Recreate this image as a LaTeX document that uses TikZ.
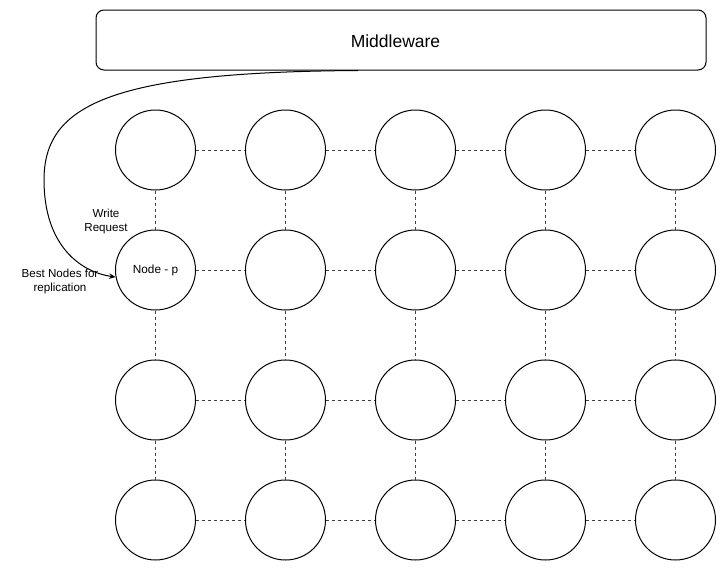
\documentclass[tikz,border=0pt]{standalone}
\usepackage{fontspec}
\setmainfont{Liberation Sans}
\usetikzlibrary{arrows.meta,calc}
\begin{document}
\begin{tikzpicture}[x=1pt,y=-1pt,
  peer/.style={draw,circle,minimum size=80pt,inner sep=0pt,line width=1pt,font=\fontsize{11.8}{13}\selectfont},
  link/.style={draw=black!75,line width=1pt,dash pattern=on 3pt off 3pt},
  lbl/.style={align=center,font=\fontsize{11.6}{14}\selectfont,inner sep=0pt}]
\useasboundingbox (0,0) rectangle (726,571);
\node[draw,rounded corners=8pt,line width=1pt,minimum width=610pt,minimum height=60pt,inner sep=0pt] (mw) at (401,40) {};
\node[font=\fontsize{17.5}{20}\selectfont,inner sep=0pt] (mwt) at (395.5,41.5) {Middleware};
\foreach \r/\y in {1/150,2/270,3/400,4/520}{
  \foreach \c/\x in {1/155.5,2/285.5,3/415.5,4/545.5,5/675.5}{
    \node[peer] (n\r\c) at (\x,\y) {};
  }
}
\node[font=\fontsize{11.8}{13}\selectfont] (p) at (n21) {Node - p};
\foreach \r in {1,2,3,4}{
  \foreach \c/\d in {1/2,2/3,3/4,4/5}{
    \draw[link] (n\r\c) -- (n\r\d);
  }
}
\foreach \r/\s in {1/2,2/3,3/4}{
  \foreach \c in {1,2,3,4,5}{
    \draw[link] (n\r\c) -- (n\s\c);
  }
}
\coordinate (start) at ($(mw.south west)!0.43!(mw.south east)$);
\draw[line width=1pt,-{Stealth[length=6.5pt,width=5.5pt]}] (start) .. controls (110,72) and (44,105) .. (44,180) .. controls (44,245) and (80,272) .. (n21.190);
\node[lbl] (wr) at (106,221) {Write\\Request};
\node[lbl] (bn) at (60,281) {Best Nodes for\\replication};
\end{tikzpicture}
\end{document}
